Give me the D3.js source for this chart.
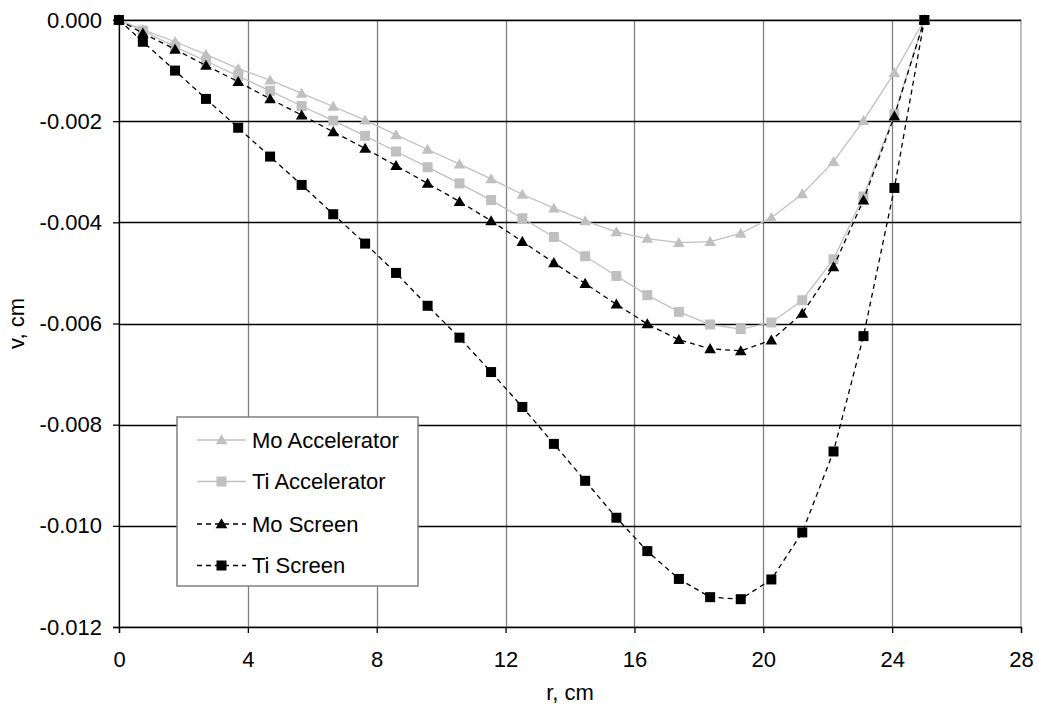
<!DOCTYPE html>
<html>
<head>
<meta charset="utf-8">
<script src="https://cdn.jsdelivr.net/npm/d3@7"></script>
<style>
  html, body { margin: 0; padding: 0; background: #fff; }
  svg { display: block; font-family: "Liberation Sans", Arial, sans-serif; }
</style>
</head>
<body>
<svg id="chart" width="1039" height="713"></svg>
<script>
// ---- data ----
const rValues = [0, 0.74, 1.74, 2.70, 3.70, 4.69, 5.67, 6.65, 7.64, 8.60, 9.58, 10.57, 11.55, 12.52,
  13.50, 14.47, 15.44, 16.40, 17.38, 18.35, 19.30, 20.25, 21.21, 22.18, 23.11, 24.07, 25.0];

const moAccelerator = [0, -0.00019, -0.00043, -0.00068, -0.00096, -0.00119, -0.00145, -0.00171, -0.00198,
  -0.00227, -0.00256, -0.00285, -0.00314, -0.00345, -0.00372, -0.00397, -0.00419, -0.00432, -0.00440,
  -0.00438, -0.00422, -0.00391, -0.00344, -0.00280, -0.00199, -0.00104, 0];

const tiAccelerator = [0, -0.00021, -0.00053, -0.00081, -0.00111, -0.00140, -0.00170, -0.00199, -0.00229,
  -0.00260, -0.00291, -0.00323, -0.00356, -0.00392, -0.00429, -0.00467, -0.00506, -0.00544, -0.00577,
  -0.00602, -0.00611, -0.00598, -0.00554, -0.00473, -0.00349, -0.00186, 0];

const moScreen = [0, -0.00026, -0.00058, -0.00090, -0.00122, -0.00156, -0.00188, -0.00221, -0.00254,
  -0.00288, -0.00323, -0.00359, -0.00397, -0.00438, -0.00480, -0.00521, -0.00562, -0.00601, -0.00632,
  -0.00650, -0.00654, -0.00633, -0.00580, -0.00488, -0.00356, -0.00190, 0];

const tiScreen = [0, -0.00043, -0.00100, -0.00156, -0.00213, -0.00270, -0.00326, -0.00384, -0.00442,
  -0.00500, -0.00565, -0.00628, -0.00696, -0.00765, -0.00838, -0.00911, -0.00984, -0.01050, -0.01105,
  -0.01141, -0.01145, -0.01106, -0.01013, -0.00853, -0.00625, -0.00332, 0];

const seriesNames = ["Mo Accelerator", "Ti Accelerator", "Mo Screen", "Ti Screen"];
const xTicks = [0, 4, 8, 12, 16, 20, 24, 28];
const yTicks = [0, -0.002, -0.004, -0.006, -0.008, -0.010, -0.012];

// ---- layout ----
const svg = d3.select("#chart");
const L = 119, R = 1021, T = 20, B = 627;
const x = d3.scaleLinear().domain([0, 28]).range([L, R]);
const y = d3.scaleLinear().domain([0, -0.012]).range([T, B]);
const FONT = 22;
const FAM = "Liberation Sans, Arial, sans-serif";

const series = [
  { name: seriesNames[0], values: moAccelerator, color: "#c0c0c0", dash: null, marker: "triangle" },
  { name: seriesNames[1], values: tiAccelerator, color: "#c0c0c0", dash: null, marker: "square" },
  { name: seriesNames[2], values: moScreen, color: "#000000", dash: "5,4", marker: "triangle" },
  { name: seriesNames[3], values: tiScreen, color: "#000000", dash: "5,4", marker: "square" }
];

// plot background + border
svg.append("rect").attr("x", L).attr("y", T).attr("width", R - L).attr("height", B - T)
  .attr("fill", "#fff").attr("stroke", "#808080").attr("stroke-width", 1);

// vertical gridlines (gray)
svg.append("g").selectAll("line").data(xTicks.filter(d => d > 0 && d < 28)).join("line")
  .attr("x1", d => Math.round(x(d)) + 0.5).attr("x2", d => Math.round(x(d)) + 0.5)
  .attr("y1", T).attr("y2", B)
  .attr("stroke", "#808080").attr("stroke-width", 1.3);

// horizontal gridlines (black)
svg.append("g").selectAll("line").data(yTicks.filter(d => d !== -0.012)).join("line")
  .attr("x1", L).attr("x2", R)
  .attr("y1", d => Math.round(y(d)) + 0.5).attr("y2", d => Math.round(y(d)) + 0.5)
  .attr("stroke", "#000").attr("stroke-width", 1.3);

// axes
const xAxis = d3.axisBottom(x).tickValues(xTicks).tickSize(6).tickPadding(18).tickFormat(d3.format("d"));
const gx = svg.append("g").attr("transform", `translate(0,${B})`).call(xAxis);
gx.select(".domain").attr("stroke", "#000").attr("stroke-width", 1.3);
gx.selectAll(".tick line").attr("stroke", "#000").attr("stroke-width", 1.3);
gx.selectAll("text").attr("font-size", FONT).attr("font-family", FAM).attr("fill", "#000");

const yAxis = d3.axisLeft(y).tickValues(yTicks).tickSize(6).tickPadding(11).tickFormat(d3.format(".3f"));
const gy = svg.append("g").attr("transform", `translate(${L},0)`).call(yAxis);
gy.select(".domain").attr("stroke", "#000").attr("stroke-width", 1.3);
gy.selectAll(".tick line").attr("stroke", "#000").attr("stroke-width", 1.3);
gy.selectAll("text").attr("font-size", FONT).attr("font-family", FAM).attr("fill", "#000")
  .text(d => d3.format(".3f")(d).replace("−", "-"));

// axis titles
svg.append("text").attr("x", (L + R) / 2).attr("y", 700).attr("text-anchor", "middle")
  .attr("font-size", FONT).text("r, cm");
svg.append("text").attr("transform", `translate(23.5,${(T + B) / 2}) rotate(-90)`).attr("text-anchor", "middle")
  .attr("font-size", FONT).text("v, cm");

// series
const line = d3.line().x((d, i) => x(rValues[i])).y(d => y(d));
const triSym = d3.symbol().type(d3.symbolTriangle).size(58);
const sqSize = 10;

function drawMarker(g, type, cx, cy, color) {
  if (type === "square") {
    g.append("rect").attr("x", cx - sqSize / 2).attr("y", cy - sqSize / 2)
      .attr("width", sqSize).attr("height", sqSize).attr("fill", color);
  } else {
    g.append("path").attr("d", triSym()).attr("transform", `translate(${cx},${cy + 1})`).attr("fill", color);
  }
}

series.forEach(s => {
  const g = svg.append("g");
  g.append("path").datum(s.values).attr("d", line).attr("fill", "none")
    .attr("stroke", s.color).attr("stroke-width", 1.3)
    .attr("stroke-dasharray", s.dash);
  s.values.forEach((v, i) => drawMarker(g, s.marker, x(rValues[i]), y(v), s.color));
});

// legend
const lg = svg.append("g");
lg.append("rect").attr("x", 177).attr("y", 417).attr("width", 241).attr("height", 169)
  .attr("fill", "#fff").attr("stroke", "#808080").attr("stroke-width", 1.5);
const legY = [440, 481.5, 524, 565.5];
series.forEach((s, i) => {
  const cy = legY[i];
  lg.append("line").attr("x1", 197).attr("x2", 246).attr("y1", cy).attr("y2", cy)
    .attr("stroke", s.color).attr("stroke-width", 1.3).attr("stroke-dasharray", s.dash);
  drawMarker(lg, s.marker, 221.5, cy, s.color);
  lg.append("text").attr("x", 252).attr("y", cy).attr("dy", "0.35em")
    .attr("font-size", FONT).text(s.name);
});
</script>
</body>
</html>
